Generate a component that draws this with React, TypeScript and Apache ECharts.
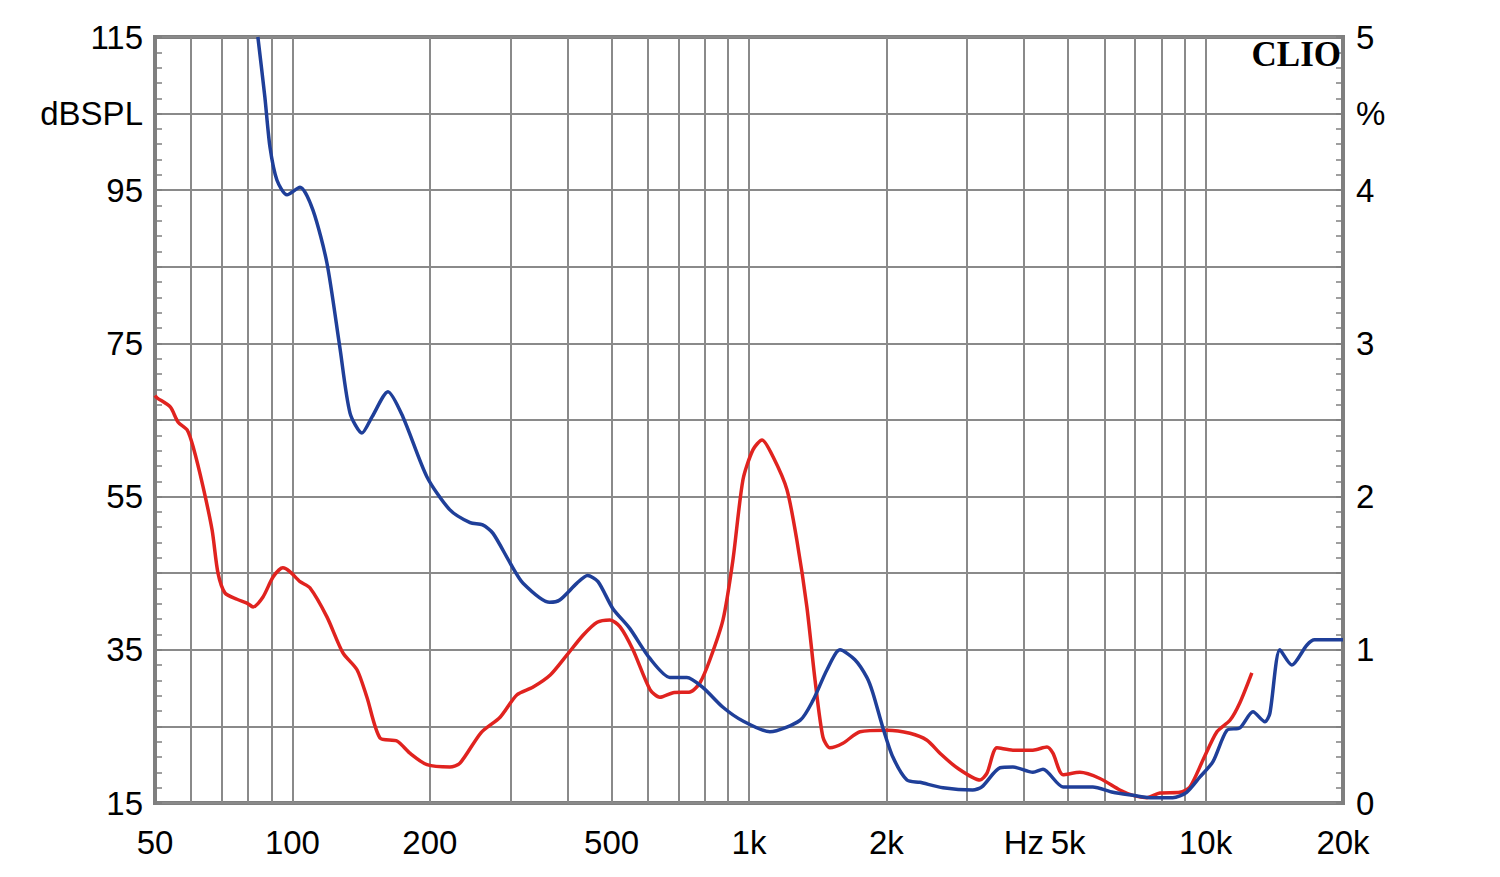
import React, { useEffect, useRef } from "react";
import * as echarts from "echarts";

// Frequency grid (Hz) and labelled frequencies
const FREQ_GRID = [50, 60, 70, 80, 90, 100, 200, 300, 400, 500, 600, 700, 800, 900, 1000, 2000, 3000, 4000, 5000, 6000, 7000, 8000, 9000, 10000, 20000];
const FREQ_LABELS = [50, 100, 200, 500, 1000, 2000, 4000, 5000, 10000, 20000];
const DB_GRID = [15, 25, 35, 45, 55, 65, 75, 85, 95, 105, 115];
const DB_LABELS = [15, 35, 55, 75, 95, 105, 115];
const PCT_LABELS = [0, 1, 2, 3, 4, 4.5, 5];

// Blue curve (Hz, dBSPL)
const BLUE_F = [84, 87, 89.3, 92.5, 97.3, 103.9, 110.9, 119, 127, 133.7, 142, 149.4, 161.9, 174.6, 197, 221, 245, 261, 275, 300, 320, 366, 385, 420, 443, 467, 503, 548, 606, 671, 731, 792, 877, 970, 1111, 1294, 1381, 1482, 1582, 1706, 1812, 1867, 1963, 2066, 2218, 2367, 2660, 3090, 3236, 3547, 3785, 4187, 4405, 4873, 5226, 5662, 6267, 6933, 7552, 8474, 9091, 9722, 10380, 11140, 11890, 12700, 13490, 13830, 14550, 15450, 16660, 17340, 20000];
const BLUE_V = [115, 107.2, 100.6, 96.3, 94.4, 95.4, 92.4, 85.5, 74.5, 65.9, 63.3, 65.4, 68.7, 65.4, 57.6, 53.3, 51.6, 51.3, 50.2, 46.3, 43.7, 41.2, 41.5, 43.7, 44.7, 43.9, 40.4, 37.8, 33.9, 31.4, 31.4, 30.1, 27.5, 25.7, 24.3, 25.8, 28.4, 32.4, 35.0, 33.7, 31.4, 29.4, 24.9, 21.0, 18.0, 17.7, 17.0, 16.7, 17.1, 19.6, 19.7, 19.0, 19.4, 17.1, 17.1, 17.1, 16.4, 16.0, 15.7, 15.7, 16.4, 18.4, 20.4, 24.5, 24.8, 26.9, 25.6, 26.7, 35.0, 33.0, 35.6, 36.3, 36.3];

// Red curve (Hz, dBSPL)
const RED_F = [50, 50.5, 54.0, 56.2, 58.8, 60.6, 63.7, 66.7, 68.7, 71.2, 75.6, 79.5, 82.0, 86.2, 90.7, 95.3, 98.7, 103.9, 109.2, 119.0, 129.0, 138.5, 145.6, 155.5, 169.4, 180.9, 197.1, 221.3, 232.8, 259, 285, 310, 336, 367, 399, 433, 465, 496, 522, 557, 607, 638, 682, 743, 781, 821, 877, 922, 970, 1020, 1068, 1129, 1211, 1273, 1339, 1395, 1452, 1504, 1606, 1750, 2006, 2252, 2454, 2620, 2855, 3206, 3321, 3492, 3785, 4187, 4493, 4631, 4871, 5307, 5869, 6490, 6933, 7440, 7943, 8790, 9243, 9869, 10590, 11310, 11890, 12630];
const RED_V = [68.2, 67.9, 66.7, 64.7, 63.7, 61.5, 56.3, 50.6, 45.0, 42.4, 41.6, 41.1, 40.6, 41.9, 44.5, 45.7, 45.2, 43.9, 43.1, 39.3, 34.6, 32.4, 28.8, 23.5, 23.1, 21.5, 20.0, 19.7, 20.2, 24.2, 26.2, 29.1, 30.1, 31.7, 34.3, 36.9, 38.6, 38.9, 38.0, 35.0, 29.8, 28.8, 29.4, 29.5, 30.7, 33.7, 38.9, 46.7, 57.2, 61.1, 62.4, 60.2, 55.9, 49.3, 40.6, 31.1, 23.6, 22.2, 22.8, 24.3, 24.5, 24.1, 23.2, 21.5, 19.6, 18.0, 18.9, 22.2, 21.9, 21.9, 22.3, 21.5, 18.7, 19.0, 18.2, 16.7, 16.0, 15.7, 16.3, 16.4, 17.1, 20.6, 24.3, 25.8, 28.1, 32.0];

const GRID_COLOR = "#8a8a8a";
const FRAME_COLOR = "#7f7f7f";
const FONT = '"Liberation Sans", Arial, sans-serif';

const lg = (f: number) => Math.log10(f);

function freqText(v: number): string {
  const f = Math.round(Math.pow(10, v));
  if (f === 4000) return "Hz";
  if (f >= 1000) return f / 1000 + "k";
  return String(f);
}

export default function App() {
  const ref = useRef<HTMLDivElement>(null);
  useEffect(() => {
    if (!ref.current) return;
    const chart = echarts.init(ref.current, undefined, { renderer: "svg" });
    const dbMinor: number[] = [];
    for (let v = 15; v <= 115; v += 2) dbMinor.push(v);
    const pctMinor: number[] = [];
    for (let k = 0; k <= 50; k++) pctMinor.push(k / 10);

    chart.setOption({
      animation: false,
      backgroundColor: "#ffffff",
      grid: {
        left: 155,
        right: 157,
        top: 37,
        bottom: 74,
        show: true,
        borderColor: FRAME_COLOR,
        borderWidth: 4,
      },
      xAxis: {
        type: "value",
        min: lg(50),
        max: lg(20000),
        axisLine: { show: false },
        axisTick: { show: false, customValues: FREQ_GRID.map(lg) },
        splitLine: { show: true, lineStyle: { color: GRID_COLOR, width: 2 } },
        axisLabel: {
          customValues: FREQ_LABELS.map(lg),
          formatter: (v: number) => freqText(v),
          fontSize: 33,
          fontFamily: FONT,
          color: "#000",
          margin: 23,
          showMinLabel: true,
          showMaxLabel: true,
        },
      },
      yAxis: [
        {
          type: "value",
          position: "left",
          min: 15,
          max: 115,
          axisLine: { show: true, lineStyle: { color: FRAME_COLOR, width: 4 } },
          axisTick: { show: true, inside: true, length: 7, customValues: dbMinor, lineStyle: { color: FRAME_COLOR, width: 1.5 } },
          axisLabel: {
            customValues: DB_LABELS,
            formatter: (v: number) => (v === 105 ? "dBSPL" : String(v)),
            fontSize: 33,
            fontFamily: FONT,
            color: "#000",
            margin: 12,
          },
          splitLine: { show: false },
        },
        {
          type: "value",
          position: "right",
          min: 0,
          max: 5,
          axisLine: { show: true, lineStyle: { color: FRAME_COLOR, width: 4 } },
          axisTick: { show: true, inside: true, length: 7, customValues: pctMinor, lineStyle: { color: FRAME_COLOR, width: 1.5 } },
          axisLabel: {
            customValues: PCT_LABELS,
            formatter: (v: number) => (v === 4.5 ? "%" : String(v)),
            fontSize: 33,
            fontFamily: FONT,
            color: "#000",
            margin: 13,
          },
          splitLine: { show: false },
        },
        {
          type: "value",
          position: "left",
          min: 15,
          max: 115,
          axisLine: { show: false },
          axisTick: { show: false, customValues: DB_GRID },
          axisLabel: { show: false },
          splitLine: { show: true, lineStyle: { color: GRID_COLOR, width: 2 } },
        },
      ],
      graphic: [
        {
          type: "text",
          right: 159,
          top: 37,
          z: 100,
          style: {
            text: "CLIO",
            font: 'bold 35px "Liberation Serif", "Times New Roman", serif',
            fill: "#000",
          },
        },
      ],
      series: [
        {
          type: "line",
          yAxisIndex: 0,
          data: RED_F.map((f, i) => [lg(f), RED_V[i]]),
          showSymbol: false,
          smooth: 0.25,
          lineStyle: { color: "#e0231f", width: 3.5 },
          z: 5,
        },
        {
          type: "line",
          yAxisIndex: 0,
          data: BLUE_F.map((f, i) => [lg(f), BLUE_V[i]]),
          showSymbol: false,
          smooth: 0.25,
          lineStyle: { color: "#1f3f99", width: 3.5 },
          z: 6,
        },
      ],
    });
    return () => chart.dispose();
  }, []);
  return (
    <div
      ref={ref}
      style={{ position: "fixed", left: 0, top: 0, width: 1500, height: 877, background: "#fff" }}
    />
  );
}
